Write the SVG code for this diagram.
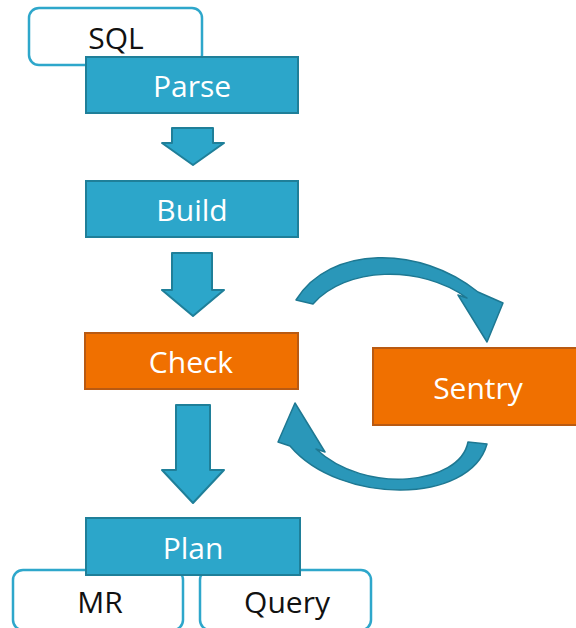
<svg xmlns="http://www.w3.org/2000/svg" width="576" height="628" viewBox="0 0 576 628">
<style>
.out{fill:#fff;stroke:#2ea7cb;stroke-width:2.5}
.blue{fill:#2ca6ca;stroke:#1f7f99;stroke-width:2}
.orange{fill:#f07000;stroke:#b95a12;stroke-width:2}
.arrow{fill:#2ca6ca;stroke:#1f7f99;stroke-width:2;stroke-linejoin:round}
.arc{fill:#2a97b9;stroke:#1e7892;stroke-width:1.5;stroke-linejoin:round}
.tw{font-family:"Open Sans","Noto Sans",sans-serif;font-size:30px;fill:#fff;text-anchor:middle}
.tb{font-family:"Open Sans","Noto Sans",sans-serif;font-size:30px;fill:#111;text-anchor:middle}
</style>
<rect width="576" height="628" fill="#fff"/>
<g id="sql"><rect class="out" x="29" y="8" width="173" height="57" rx="10"/><text class="tb" x="116" y="49">SQL</text></g>
<g id="parse"><rect class="blue" x="86" y="57" width="212" height="56"/><text class="tw" x="192" y="97">Parse</text></g>
<g id="build"><rect class="blue" x="86" y="181" width="212" height="56"/><text class="tw" x="192" y="221">Build</text></g>
<g id="check"><rect class="orange" x="85" y="333" width="213" height="56"/><text class="tw" x="191" y="373">Check</text></g>
<g id="sentry"><rect class="orange" x="373" y="348" width="210" height="77"/><text class="tw" x="478" y="399">Sentry</text></g>
<g id="mr"><rect class="out" x="13" y="570" width="170" height="60" rx="10"/><text class="tb" x="100" y="613">MR</text></g>
<g id="query"><rect class="out" x="200" y="570" width="171" height="60" rx="10"/><text class="tb" x="287" y="613">Query</text></g>
<g id="plan"><rect class="blue" x="86" y="518" width="214" height="57"/><text class="tw" x="193" y="559">Plan</text></g>
<g id="connectors">
<path class="arrow" d="M172,128 H213 V143 H224 L193,165 L162,143 H172 Z"/>
<path class="arrow" d="M172,253 H212 V290 H224 L193,316 L162,290 H172 Z"/>
<path class="arrow" d="M176,405 H210 V470 H224 L193,503 L162,470 H176 Z"/>
<path class="arc" d="M296,300 C330,245 420,245 478,292 L503,303 L487,342 L458,295 L467,298 C420,264 345,267 313,304 Z"/>
<path class="arc" d="M487,444 C470,505 340,505 290,446 L278,442 L295,403 L325,452 L316,449 C365,495 460,485 468,442 Z"/>
</g>
</svg>
